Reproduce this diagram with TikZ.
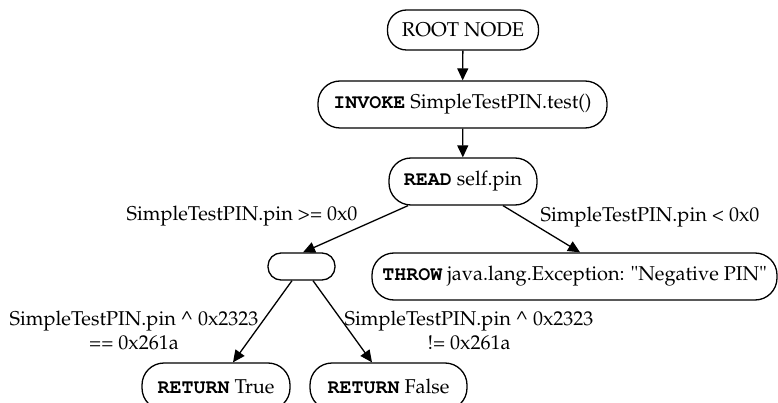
\documentclass[tikz,border=0pt]{standalone}
\usepackage[T1]{fontenc}
\usepackage{mathpazo}
\usepackage{courier}
\usetikzlibrary{arrows.meta,calc}
\newcommand\kw[1]{{\ttfamily\bfseries #1}}
\begin{document}
\begin{tikzpicture}[x=1pt,y=-1pt,
  every node/.style={font=\fontsize{20}{24}\selectfont},
  box/.style={draw,line width=1.3pt,rounded corners=22pt,inner sep=0pt,minimum height=47pt},
  arr/.style={line width=1.3pt,-{Triangle[length=12pt,width=11pt]}},
  lbl/.style={inner sep=0pt,align=center}]
\useasboundingbox (0,0) rectangle (778,403);
\node[box,minimum width=151pt,minimum height=40pt,rounded corners=19pt] (root) at (463,30) {ROOT NODE};
\node[box,minimum width=289pt] (invoke) at (462.5,104.5) {\kw{INVOKE} SimpleTestPIN.test()};
\node[box,minimum width=148pt] (read) at (463,181.5) {\kw{READ} self.pin};
\node[box,minimum width=67pt,minimum height=27pt,rounded corners=13pt] (empty) at (301.5,266.5) {};
\node[box,minimum width=405pt] (throw) at (574.5,276.5) {\kw{THROW} java.lang.Exception: "Negative PIN"};
\node[box,minimum width=148pt] (rtrue) at (216,386.5) {\kw{RETURN} True};
\node[box,minimum width=157pt] (rfalse) at (388.5,386.5) {\kw{RETURN} False};
\draw[arr] (root) -- (invoke);
\draw[arr] (invoke) -- (read);
\draw[arr] ($(read.south)+(-55,0)$) -- ($(empty.north)+(1.5,0)$);
\draw[arr] ($(read.south)+(40,0)$) -- ($(throw.north)+(5.5,0)$);
\draw[arr] ($(empty.south)+(-9.5,0)$) -- ($(rtrue.north)+(17,0)$);
\draw[arr] ($(empty.south)+(11.5,0)$) -- ($(rfalse.north)+(-16.5,0)$);
\node[lbl] (l1) at (242,216) {SimpleTestPIN.pin >= 0x0};
\node[lbl] (l2) at (650,217) {SimpleTestPIN.pin < 0x0};
\node[lbl] (l3) at (134,330) {SimpleTestPIN.pin \textasciicircum{} 0x2323\\== 0x261a};
\node[lbl] (l4) at (469,330) {SimpleTestPIN.pin \textasciicircum{} 0x2323\\!= 0x261a};
\end{tikzpicture}
\end{document}
